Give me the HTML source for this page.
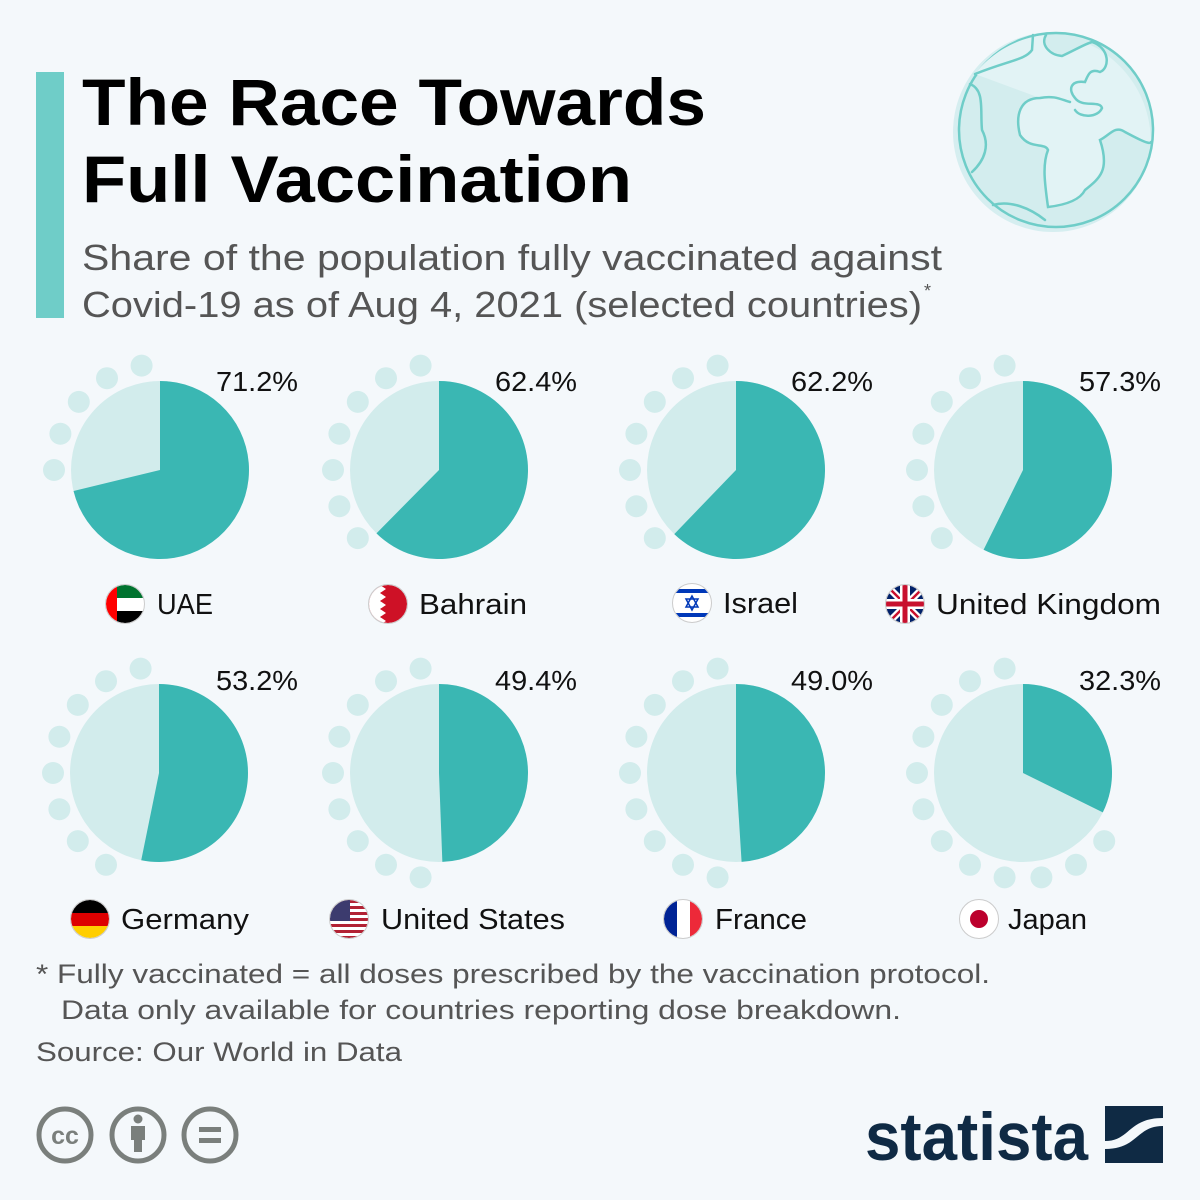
<!DOCTYPE html>
<html><head><meta charset="utf-8"><style>
html,body{margin:0;padding:0;background:#f4f8fb}
svg{display:block}
text{font-family:"Liberation Sans",sans-serif}
</style></head><body>
<svg id="s" width="1200" height="1200" viewBox="0 0 1200 1200" xmlns="http://www.w3.org/2000/svg">
<rect width="1200" height="1200" fill="#f4f8fb"/>
<rect x="36" y="72" width="28" height="246" fill="#6fcdc8"/>
<text x="82" y="125" font-size="66" font-weight="bold" fill="#000" textLength="624" lengthAdjust="spacingAndGlyphs">The Race Towards</text>
<text x="82" y="202" font-size="66" font-weight="bold" fill="#000" textLength="550" lengthAdjust="spacingAndGlyphs">Full Vaccination</text>
<text x="82" y="270" font-size="36" fill="#555" textLength="860" lengthAdjust="spacingAndGlyphs">Share of the population fully vaccinated against</text>
<text x="82" y="317" font-size="36" fill="#555" textLength="840" lengthAdjust="spacingAndGlyphs">Covid-19 as of Aug 4, 2021 (selected countries)</text>
<text x="924" y="297" font-size="18" fill="#555">*</text>

<!-- globe -->
<g>
<circle cx="1053" cy="132" r="100" fill="#d6eef0"/>
<circle cx="1056" cy="130" r="97" fill="#d3edee" stroke="#6fcdc8" stroke-width="2.5"/>
<path d="M1040,98 C1020,98 1015,115 1020,135 C1030,150 1045,142 1048,150 C1042,165 1045,185 1048,207 C1065,205 1080,200 1085,190 C1100,178 1110,170 1100,140 C1110,135 1115,125 1125,132 C1140,140 1150,145 1151,142 C1150,100 1130,70 1100,50 C1090,44 1085,44 1092,42 L1062,56 C1050,55 1040,45 1046,35 C1010,38 985,60 975,74 Z" fill="#e2f3f5"/>
<path d="M975,74 C1010,60 1025,60 1032,50 L1033,35 M1046,35 C1040,45 1050,55 1062,56 C1075,50 1085,44 1092,42 C1110,48 1110,68 1100,72 C1090,68 1088,75 1085,82 C1070,80 1068,90 1075,98 C1082,108 1100,100 1102,108 C1098,118 1080,118 1075,110 M1040,98 C1020,98 1015,115 1020,135 C1030,150 1045,142 1048,150 C1042,165 1045,185 1048,207 C1065,205 1080,200 1085,190 C1100,178 1110,170 1100,140 C1110,135 1115,125 1125,132 C1140,140 1150,145 1151,142 M1040,98 C1055,95 1062,100 1070,102 M970,84 C985,90 980,110 982,130 C990,145 985,160 972,172 M993,205 C1010,200 1030,208 1045,220" fill="none" stroke="#6fcdc8" stroke-width="2.5" stroke-linecap="round"/>
</g>

<g id="pies"></g>

<!-- flags -->
<defs>
<clipPath id="c1"><circle cx="125" cy="604" r="19"/></clipPath>
<clipPath id="c2"><circle cx="388" cy="604" r="19"/></clipPath>
<clipPath id="c3"><circle cx="692" cy="603" r="19"/></clipPath>
<clipPath id="c4"><circle cx="905" cy="604" r="19"/></clipPath>
<clipPath id="c5"><circle cx="90" cy="919" r="19"/></clipPath>
<clipPath id="c6"><circle cx="349" cy="919" r="19"/></clipPath>
<clipPath id="c7"><circle cx="683" cy="919" r="19"/></clipPath>
<clipPath id="c8"><circle cx="979" cy="919" r="19"/></clipPath>
</defs>
<g clip-path="url(#c1)"><rect x="106" y="585" width="40" height="40" fill="#fff"/><rect x="106" y="585" width="11" height="40" fill="#f00"/><rect x="117" y="585" width="30" height="13" fill="#00732f"/><rect x="117" y="611" width="30" height="14" fill="#000"/></g>
<g clip-path="url(#c2)"><rect x="369" y="585" width="40" height="40" fill="#ce1126"/><path d="M369,585 H380 L386,589 L380,593 L386,597 L380,601 L386,605 L380,609 L386,613 L380,617 L386,621 L380,625 H369Z" fill="#fff"/></g>
<g clip-path="url(#c3)"><rect x="673" y="584" width="40" height="40" fill="#fff"/><rect x="673" y="589" width="40" height="4" fill="#0038b8"/><rect x="673" y="613" width="40" height="4" fill="#0038b8"/><path d="M692,596 l6,11 h-12z M692,610 l6,-11 h-12z" fill="none" stroke="#0038b8" stroke-width="1.5"/></g>
<g clip-path="url(#c4)"><rect x="886" y="585" width="40" height="40" fill="#012169"/><path d="M886,585 L926,625 M926,585 L886,625" stroke="#fff" stroke-width="7"/><path d="M886,585 L926,625 M926,585 L886,625" stroke="#c8102e" stroke-width="2.5"/><path d="M905,585 V625 M886,604 H926" stroke="#fff" stroke-width="10"/><path d="M905,585 V625 M886,604 H926" stroke="#c8102e" stroke-width="5"/></g>
<g clip-path="url(#c5)"><rect x="71" y="900" width="40" height="13" fill="#000"/><rect x="71" y="913" width="40" height="13" fill="#dd0000"/><rect x="71" y="926" width="40" height="14" fill="#ffce00"/></g>
<g clip-path="url(#c6)"><rect x="330" y="900" width="40" height="40" fill="#fff"/><g fill="#b22234"><rect x="330" y="900" width="40" height="3"/><rect x="330" y="906" width="40" height="3"/><rect x="330" y="912" width="40" height="3"/><rect x="330" y="918" width="40" height="3"/><rect x="330" y="924" width="40" height="3"/><rect x="330" y="930" width="40" height="3"/><rect x="330" y="936" width="40" height="3"/></g><rect x="330" y="900" width="20" height="21" fill="#3c3b6e"/></g>
<g clip-path="url(#c7)"><rect x="664" y="900" width="13" height="40" fill="#002395"/><rect x="677" y="900" width="13" height="40" fill="#fff"/><rect x="690" y="900" width="13" height="40" fill="#ed2939"/></g>
<g clip-path="url(#c8)"><rect x="960" y="900" width="40" height="40" fill="#fff"/><circle cx="979" cy="919" r="9" fill="#bc002d"/></g>
<g fill="none" stroke="#ccc" stroke-width="1"><circle cx="125" cy="604" r="19.5"/><circle cx="388" cy="604" r="19.5"/><circle cx="692" cy="603" r="19.5"/><circle cx="905" cy="604" r="19.5"/><circle cx="90" cy="919" r="19.5"/><circle cx="349" cy="919" r="19.5"/><circle cx="683" cy="919" r="19.5"/><circle cx="979" cy="919" r="19.5"/></g>

<g font-size="29" fill="#111">
<text x="157" y="614" textLength="56" lengthAdjust="spacingAndGlyphs">UAE</text>
<text x="419" y="614" textLength="108" lengthAdjust="spacingAndGlyphs">Bahrain</text>
<text x="723" y="613" textLength="75" lengthAdjust="spacingAndGlyphs">Israel</text>
<text x="936" y="614" textLength="225" lengthAdjust="spacingAndGlyphs">United Kingdom</text>
<text x="121" y="929" textLength="128" lengthAdjust="spacingAndGlyphs">Germany</text>
<text x="381" y="929" textLength="184" lengthAdjust="spacingAndGlyphs">United States</text>
<text x="715" y="929" textLength="92" lengthAdjust="spacingAndGlyphs">France</text>
<text x="1008" y="929" textLength="79" lengthAdjust="spacingAndGlyphs">Japan</text>
</g>
<g font-size="28" fill="#111">
<text x="216" y="391" textLength="82" lengthAdjust="spacingAndGlyphs">71.2%</text>
<text x="495" y="391" textLength="82" lengthAdjust="spacingAndGlyphs">62.4%</text>
<text x="791" y="391" textLength="82" lengthAdjust="spacingAndGlyphs">62.2%</text>
<text x="1079" y="391" textLength="82" lengthAdjust="spacingAndGlyphs">57.3%</text>
<text x="216" y="690" textLength="82" lengthAdjust="spacingAndGlyphs">53.2%</text>
<text x="495" y="690" textLength="82" lengthAdjust="spacingAndGlyphs">49.4%</text>
<text x="791" y="690" textLength="82" lengthAdjust="spacingAndGlyphs">49.0%</text>
<text x="1079" y="690" textLength="82" lengthAdjust="spacingAndGlyphs">32.3%</text>
</g>

<g font-size="27" fill="#555">
<text x="36" y="983" textLength="954" lengthAdjust="spacingAndGlyphs">* Fully vaccinated = all doses prescribed by the vaccination protocol.</text>
<text x="61" y="1019" textLength="840" lengthAdjust="spacingAndGlyphs">Data only available for countries reporting dose breakdown.</text>
<text x="36" y="1061" textLength="366" lengthAdjust="spacingAndGlyphs">Source: Our World in Data</text>
</g>

<!-- CC icons -->
<g fill="none" stroke="#7a7f7c" stroke-width="5">
<circle cx="65" cy="1135" r="26"/><circle cx="138" cy="1135" r="26"/><circle cx="210" cy="1135" r="26"/>
</g>
<text x="65" y="1144" font-size="25" font-weight="bold" fill="#7a7f7c" text-anchor="middle">cc</text>
<g fill="#7a7f7c"><circle cx="138" cy="1119" r="4.5"/><rect x="131" y="1126" width="14" height="14"/><rect x="134" y="1138" width="8" height="14"/>
<rect x="199" y="1127" width="22" height="5"/><rect x="199" y="1138" width="22" height="5"/></g>

<!-- statista -->
<text x="865" y="1160" font-size="68" font-weight="bold" fill="#0f2a44" textLength="223" lengthAdjust="spacingAndGlyphs">statista</text>
<rect x="1105" y="1106" width="58" height="57" fill="#0f2a44"/>
<path d="M1105,1141 C1130,1141 1128,1118 1163,1118 L1163,1126 C1136,1126 1138,1149 1105,1149Z" fill="#f4f8fb"/>
</svg>
<script>
(function(){
var ns="http://www.w3.org/2000/svg",g=document.getElementById("pies");
var d=[[160,470,71.2],[439,470,62.4],[736,470,62.2],[1023,470,57.3],[159,773,53.2],[439,773,49.4],[736,773,49.0],[1023,773,32.3]];
function el(t,a){var e=document.createElementNS(ns,t);for(var k in a)e.setAttribute(k,a[k]);g.appendChild(e);return e;}
d.forEach(function(p){
var cx=p[0],cy=p[1],v=p[2],R=89,ang=v*3.6;
for(var a=10;a<360;a+=20){if(a>ang+5){var r=a*Math.PI/180;el("circle",{cx:cx+106*Math.sin(r),cy:cy-106*Math.cos(r),r:11,fill:"#d2ecec"});}}
el("circle",{cx:cx,cy:cy,r:R,fill:"#d2ecec"});
var r=ang*Math.PI/180,ex=cx+R*Math.sin(r),ey=cy-R*Math.cos(r);
el("path",{d:"M"+cx+","+cy+" L"+cx+","+(cy-R)+" A"+R+","+R+" 0 "+(ang>180?1:0)+" 1 "+ex+","+ey+" Z",fill:"#3ab7b3"});
});
})();
</script>
</body></html>
